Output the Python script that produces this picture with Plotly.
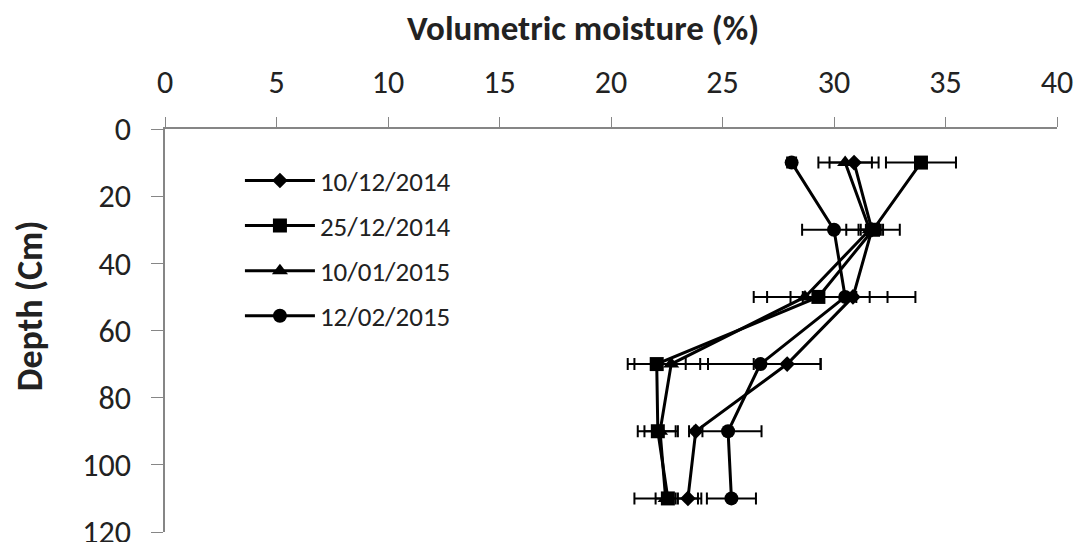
import plotly.graph_objects as go

depth = [10, 30, 50, 70, 90, 110]

series_names = ["10/12/2014", "25/12/2014", "10/01/2015", "12/02/2015"]
moisture_d1 = [30.9, 31.7, 30.85, 27.9, 23.8, 23.45]
moisture_d2 = [33.9, 31.75, 29.3, 22.05, 22.1, 22.55]
moisture_d3 = [30.5, 31.6, 28.7, 22.7, 22.2, 22.45]
moisture_d4 = [28.1, 30.0, 30.5, 26.7, 25.25, 25.4]

err_d1 = [1.1, 0.5, 2.8, 1.5, 0.3, 0.45]
err_d2 = [1.57, 1.2, 2.3, 1.3, 0.9, 1.5]
err_d3 = [1.2, 0.5, 2.3, 1.65, 0.7, 0.45]
err_d4 = [0.2, 1.43, 1.9, 2.7, 1.5, 1.1]

x_ticks = [0, 5, 10, 15, 20, 25, 30, 35, 40]
y_ticks = [0, 20, 40, 60, 80, 100, 120]

symbols = ["diamond", "square", "triangle-up", "circle"]
sizes = [12, 14, 14, 14]
values = [moisture_d1, moisture_d2, moisture_d3, moisture_d4]
errors = [err_d1, err_d2, err_d3, err_d4]

FONT = "Carlito, Open Sans, sans-serif"

fig = go.Figure()
for i, name in enumerate(series_names):
    fig.add_trace(go.Scatter(
        x=values[i], y=depth, name=name, mode="lines+markers",
        legendgroup=f"g{i}",
        line=dict(color="black", width=3),
        marker=dict(symbol=symbols[i], size=sizes[i], color="black"),
        error_x=dict(type="data", array=errors[i], symmetric=True,
                     color="black", thickness=2, width=6),
    ))

fig.update_layout(
    width=1076, height=542,
    margin=dict(l=165, r=19, t=129, b=10, autoexpand=False),
    paper_bgcolor="white", plot_bgcolor="white",
    font=dict(family=FONT, color="#222222"),
    showlegend=True,
    legend=dict(x=0.084, y=0.932, xanchor="left", yanchor="top",
                bgcolor="rgba(0,0,0,0)", font=dict(size=27, family=FONT),
                tracegroupgap=7, itemwidth=70, traceorder="grouped"),
    xaxis=dict(range=[0, 40], side="top", tickvals=x_ticks,
               showgrid=False, zeroline=False, showline=True, automargin=False,
               linecolor="#868686", linewidth=1.5, ticks="outside",
               ticklen=10, tickcolor="#868686", ticklabeloverflow="allow",
               tickfont=dict(size=32, family=FONT, color="#222222"),
               ticklabelstandoff=11),
    yaxis=dict(range=[120, 0], tickvals=y_ticks,
               showgrid=False, zeroline=False, showline=True, automargin=False,
               linecolor="#868686", linewidth=1.5, ticks="outside",
               ticklen=12, tickcolor="#868686", ticklabeloverflow="allow",
               tickfont=dict(size=32, family=FONT, color="#222222"),
               ticklabelstandoff=14),
    annotations=[
        dict(text="<b>Volumetric moisture (%)</b>", xref="paper", yref="paper",
             x=0.469, y=1.25, showarrow=False, xanchor="center", yanchor="middle",
             font=dict(size=35, family=FONT, color="#222222")),
        dict(text="<b>Depth (Cm)</b>", xref="paper", yref="paper",
             x=-0.151, y=0.561, showarrow=False, textangle=-90,
             xanchor="center", yanchor="middle",
             font=dict(size=36, family=FONT, color="#222222")),
    ],
)

fig.write_html("out.html", config={"displayModeBar": False},
               post_script="document.body.style.margin='0px';document.body.style.overflow='hidden';")
